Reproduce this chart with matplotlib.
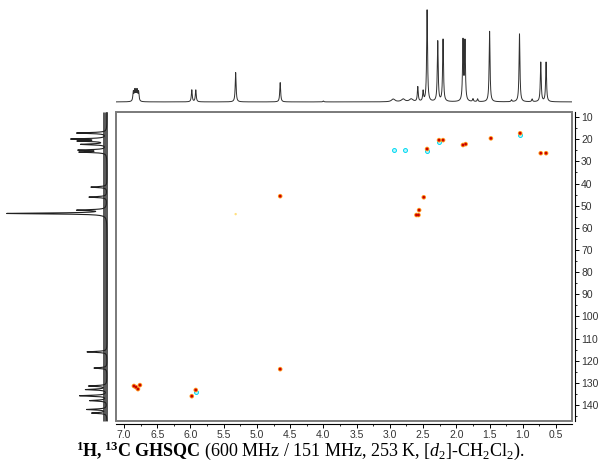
#!/usr/bin/env python
"""
1H,13C GHSQC spectrum with 1D projections (1H on top, 13C on the left).
"""
import matplotlib
matplotlib.use('Agg')
import matplotlib.pyplot as plt
from matplotlib.patches import Rectangle
from matplotlib.ticker import MultipleLocator
import numpy as np

# 1H projection: shift / ppm and relative height
h_shifts = [6.86, 6.84, 6.82, 6.80, 6.78, 5.98, 5.92, 5.32, 4.65, 4.00,
            2.95, 2.80, 2.68, 2.58, 2.50, 2.44, 2.28, 2.20, 1.90, 1.87,
            1.75, 1.68, 1.50, 1.17, 1.05, 0.86, 0.73, 0.65]
h_heights = [10, 11, 11, 11, 10, 13, 13, 32, 21, 1,
             3, 3, 3, 16, 11, 100, 66, 68, 65, 64,
             3, 3, 77, 2, 74, 3, 43, 43]
h_widths = [0.008] * 10 + [0.03, 0.03, 0.03] + [0.008] * 15

# 13C projection: shift / ppm and relative height
c_shifts = [17.2, 19.9, 20.8, 22.3, 24.9, 25.8, 41.6, 46.1, 52.0, 53.5,
            116.0, 123.3, 131.4, 133.0, 135.8, 138.0, 142.0, 143.6]
c_heights = [30, 34, 27, 25, 27, 26, 16, 18, 28, 100,
             20, 13, 18, 21, 27, 17, 20, 15]

# cross peaks (1H / ppm, 13C / ppm)
pos_h = [6.85, 6.82, 6.79, 6.76, 5.92, 5.98, 4.65, 4.65, 2.49, 2.56,
         2.60, 2.57, 2.44, 2.26, 2.20, 1.90, 1.86, 1.48, 1.04, 0.73, 0.65]
pos_c = [131.4, 131.9, 132.8, 131.0, 133.2, 136.0, 123.8, 45.7, 46.2, 52.0,
         54.2, 54.2, 24.4, 20.4, 20.4, 22.6, 22.2, 19.6, 17.3, 26.3, 26.3]
neg_h = [2.94, 2.77, 2.44, 2.26, 1.04, 5.92]
neg_c = [24.9, 24.9, 25.4, 21.2, 18.0, 134.0]
weak_h = [5.32]
weak_c = [53.8]

W, H = 600, 474


def box(left, top, right, bottom):
    return [left / W, 1 - bottom / H, (right - left) / W, (bottom - top) / H]


def lorentz(axis, shifts, heights, widths):
    total = np.zeros_like(axis)
    for x0, h, w in zip(shifts, heights, widths):
        total += h * w ** 2 / ((axis - x0) ** 2 + w ** 2)
    return total


plt.rcParams['font.family'] = ['Liberation Sans', 'DejaVu Sans']
plt.rcParams['mathtext.fontset'] = 'custom'
plt.rcParams['mathtext.rm'] = 'Liberation Serif'
plt.rcParams['mathtext.it'] = 'Liberation Serif:italic'
plt.rcParams['mathtext.bf'] = 'Liberation Serif:bold'

fig = plt.figure(figsize=(6, 4.74), dpi=100)

x_lim = (7.12, 0.26)
y_lim = (147.2, 7.7)

# main 2D panel
ax = fig.add_axes(box(116, 112, 572, 421))
ax.scatter(pos_h, pos_c, s=11, color='#ff9a20', edgecolors='none', zorder=2)
ax.scatter(pos_h, pos_c, s=4, color='#c80000', edgecolors='none', zorder=3)
ax.scatter(neg_h, neg_c, s=8, facecolors='#b8f6ff', edgecolors='#00d8f0',
           linewidths=0.7, zorder=1)
ax.scatter(weak_h, weak_c, s=3, color='#ffe080', edgecolors='none')
ax.set_xlim(*x_lim)
ax.set_ylim(*y_lim)
for side in ('top', 'left'):
    ax.spines[side].set_visible(False)
for side in ('bottom', 'right'):
    ax.spines[side].set_position(('outward', 2.2))
    ax.spines[side].set_linewidth(0.8)
ax.xaxis.set_major_locator(MultipleLocator(0.5))
ax.xaxis.set_minor_locator(MultipleLocator(0.25))
ax.yaxis.set_major_locator(MultipleLocator(10))
ax.yaxis.set_minor_locator(MultipleLocator(5))
ax.yaxis.tick_right()
ax.tick_params(which='major', length=2.8, width=0.7, labelsize=7.5,
               labelcolor='#333333', pad=1.5)
ax.tick_params(which='minor', length=1.6, width=0.6)
ax.xaxis.set_major_formatter(plt.FuncFormatter(lambda v, p: f'{v:.1f}'))
ax.add_patch(Rectangle((0, 0), 1, 1, transform=ax.transAxes, fill=False,
                       edgecolor='#7a7a7a', linewidth=1.4, clip_on=False))

# 1H projection on top
h_axis = np.linspace(x_lim[0], x_lim[1], 6000)
top = fig.add_axes(box(116, 4, 572, 110))
top.plot(h_axis, lorentz(h_axis, h_shifts, h_heights, h_widths),
         color='#303030', linewidth=0.7)
top.set_xlim(*x_lim)
top.set_ylim(-8.8, 106.6)
top.axis('off')

# 13C projection on the left
c_axis = np.linspace(y_lim[1], y_lim[0], 3000)
side = fig.add_axes(box(0, 112, 115, 421))
side.fill_betweenx(c_axis, -0.5, 4.5, color='#5a5a5a', linewidth=0)
side.plot(lorentz(c_axis, c_shifts, c_heights, [0.25] * len(c_shifts)),
          c_axis, color='#202020', linewidth=0.8)
side.set_xlim(107, -8)
side.set_ylim(*y_lim)
side.axis('off')

fig.text(0.5, 1 - 451 / H,
         r'$\mathbf{^{1}H,^{13}C\ GHSQC}$ (600 MHz / 151 MHz, 253 K, '
         r'[$d_{2}$]-CH$_{2}$Cl$_{2}$).',
         ha='center', va='center', fontsize=13,
         family=['Liberation Serif', 'DejaVu Serif'])

fig.savefig('out.png', dpi=100)
